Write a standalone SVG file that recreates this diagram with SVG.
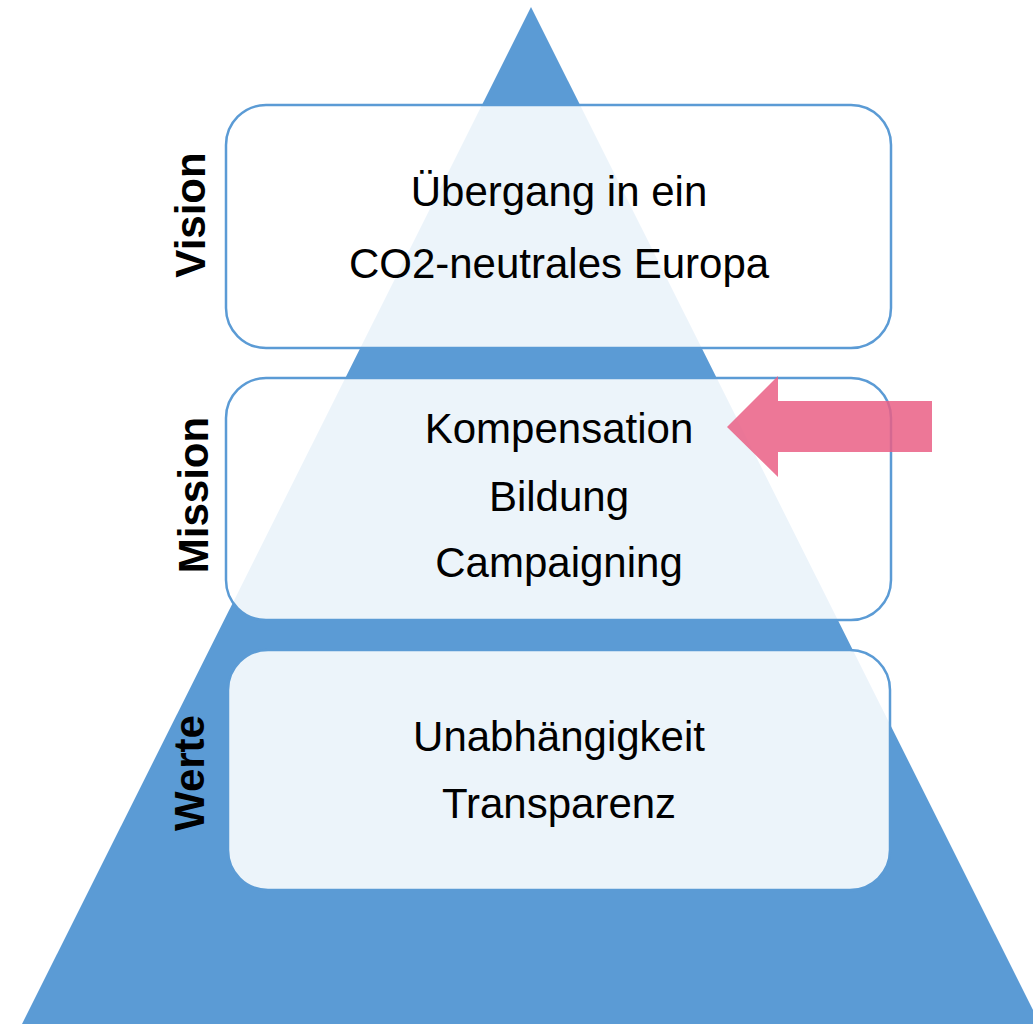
<svg xmlns="http://www.w3.org/2000/svg" width="1033" height="1024" viewBox="0 0 1033 1024">
<style>
.box{fill:#ffffff;fill-opacity:0.885;stroke:#5B9BD5;stroke-width:2.5}
.t{font-family:"Liberation Sans",Arial,sans-serif;font-size:42px;fill:#000;text-anchor:middle}
.lbl{font-family:"Liberation Sans",Arial,sans-serif;font-size:42px;font-weight:bold;fill:#000;text-anchor:middle}
</style>
<rect width="1033" height="1024" fill="#ffffff"/>
<g id="pyramid"><polygon points="531,7 1040,1024 22,1024" fill="#5B9BD5"/></g>
<g id="vision">
<rect class="box" x="226" y="105" width="665" height="243" rx="40" ry="40"/>
<text class="t" x="559" y="206">Übergang in ein</text>
<text class="t" x="559" y="278">CO2-neutrales Europa</text>
<text class="lbl" transform="translate(205,215) rotate(-90)">Vision</text>
</g>
<g id="mission">
<rect class="box" x="226" y="378" width="665" height="242" rx="40" ry="40"/>
<text class="t" x="559" y="443">Kompensation</text>
<text class="t" x="559" y="511">Bildung</text>
<text class="t" x="559" y="577">Campaigning</text>
<text class="lbl" transform="translate(208,495) rotate(-90)">Mission</text>
</g>
<g id="werte">
<rect class="box" x="228" y="650" width="662" height="240" rx="40" ry="40"/>
<text class="t" x="559" y="751">Unabhängigkeit</text>
<text class="t" x="559" y="818">Transparenz</text>
<text class="lbl" transform="translate(204,773) rotate(-90)">Werte</text>
</g>
<g id="connectors">
<polygon points="727,427 778,376 778,401 932,401 932,452 778,452 778,477" fill="#EA5F85" fill-opacity="0.85"/>
</g>
</svg>
